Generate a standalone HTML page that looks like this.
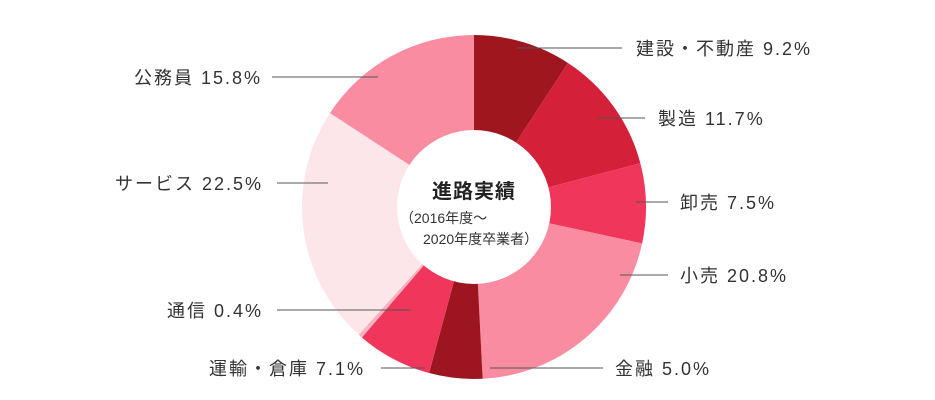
<!DOCTYPE html>
<html><head><meta charset="utf-8"><style>
html,body{margin:0;padding:0;background:#fff;}
svg{display:block;font-family:"Liberation Sans","Noto Sans CJK JP",sans-serif;}
</style></head><body>
<svg id="c" width="935" height="400" viewBox="0 0 935 400"></svg>
<script>
const categories=["建設・不動産","製造","卸売","小売","金融","運輸・倉庫","通信","サービス","公務員"];
const values=[9.2,11.7,7.5,20.8,5.0,7.1,0.4,22.5,15.8];
const colors=["#a0161f","#d42038","#f0365a","#f98ca0","#9c1520","#f0365a","#f6b3c0","#fde6ea","#f98ca0"];
const labelX=[636,658,680,680,615,365,263,263,262];
const labelY=[48,118,202,275,368,368,310,183,77];
const lineX1=[517,597,636,620,490,381,277,277,272];
const lineX2=[622,645,668,668,603,425,411,328,378];
const anchors=["start","start","start","start","start","end","end","end","end"];
const NS="http://www.w3.org/2000/svg";
const svg=document.getElementById('c');
const cx=474,cy=207,R=172,r=77;
const total=values.reduce((a,b)=>a+b,0);
function pt(a,rad){return [cx+rad*Math.sin(a),cy-rad*Math.cos(a)];}
let acc=0;
values.forEach((v,i)=>{
  const a0=acc/total*2*Math.PI; acc+=v; const a1=acc/total*2*Math.PI;
  const [x0,y0]=pt(a0,R),[x1,y1]=pt(a1,R);
  const large=(a1-a0)>Math.PI?1:0;
  const p=document.createElementNS(NS,'path');
  p.setAttribute('d',`M${cx},${cy} L${x0},${y0} A${R},${R} 0 ${large} 1 ${x1},${y1} Z`);
  p.setAttribute('fill',colors[i]);
  
  
  svg.appendChild(p);
});
const hole=document.createElementNS(NS,'circle');
hole.setAttribute('cx',cx);hole.setAttribute('cy',cy);hole.setAttribute('r',r);hole.setAttribute('fill','#fff');


svg.appendChild(hole);
categories.forEach((c,i)=>{
  const l=document.createElementNS(NS,'line');
  l.setAttribute('x1',lineX1[i]);l.setAttribute('x2',lineX2[i]);
  l.setAttribute('y1',labelY[i]);l.setAttribute('y2',labelY[i]);
  l.setAttribute('stroke','#555');l.setAttribute('stroke-width','1');
  
  
  svg.appendChild(l);
  const t=document.createElementNS(NS,'text');
  t.setAttribute('x',labelX[i]);t.setAttribute('y',labelY[i]+7);
  t.setAttribute('text-anchor',anchors[i]);
  t.setAttribute('font-size','18');t.setAttribute('fill','#333');
  t.setAttribute('letter-spacing','2');
  t.textContent=c+' '+values[i].toFixed(1)+'%';
  
  
  svg.appendChild(t);
});
</script>
<div style="position:absolute;left:0;top:0;width:935px;height:400px;pointer-events:none;">
<div style="position:absolute;left:419px;top:175px;width:110px;text-align:center;font:bold 20px 'Liberation Sans','Noto Sans CJK JP',sans-serif;color:#222;letter-spacing:1px;">進路実績</div>
<div style="position:absolute;left:400px;top:208px;font:14px 'Liberation Sans','Noto Sans CJK JP',sans-serif;color:#333;">（2016年度～</div>
<div style="position:absolute;left:423px;top:229px;font:14px 'Liberation Sans','Noto Sans CJK JP',sans-serif;color:#333;">2020年度卒業者）</div>
</div>
</body></html>
